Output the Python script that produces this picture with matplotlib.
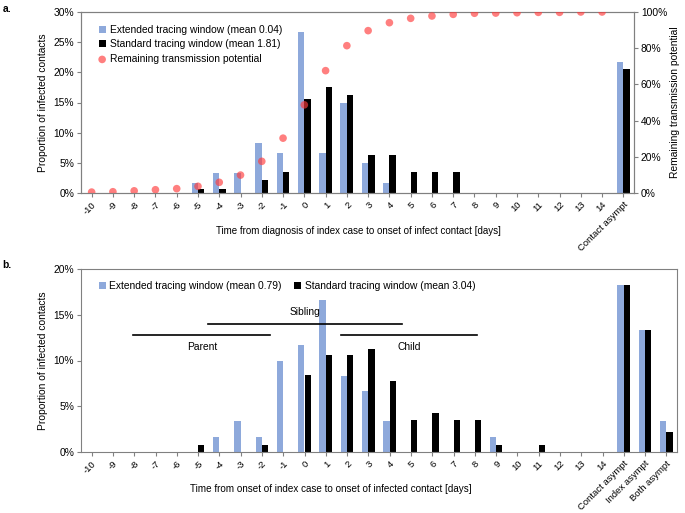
import matplotlib.pyplot as plt
import numpy as np

plt.rcParams['font.family'] = ['Liberation Sans', 'DejaVu Sans']

# panel a data
days_a = [str(d) for d in range(-10, 15)] + ['Contact asympt']
ext_a = [0, 0, 0, 0, 0, 1.65, 3.35, 3.35, 8.35, 6.7, 26.7, 6.7, 15.0, 5.0, 1.7,
         0, 0, 0, 0, 0, 0, 0, 0, 0, 0, 21.7]
std_a = [0, 0, 0, 0, 0, 0.7, 0.7, 0, 2.1, 3.5, 15.5, 17.6, 16.2, 6.3, 6.3,
         3.5, 3.5, 3.5, 0, 0, 0, 0, 0, 0, 0, 20.5]
remaining = [0.5, 0.7, 1.2, 1.8, 2.4, 3.7, 5.9, 9.9, 17.5, 30.3, 48.7, 67.6, 81.4,
             89.7, 94.1, 96.5, 97.8, 98.7, 99.3, 99.4, 99.6, 99.8, 99.8, 100, 100]

# panel b data
days_b = [str(d) for d in range(-10, 15)] + ['Contact asympt', 'Index asympt', 'Both asympt']
ext_b = [0, 0, 0, 0, 0, 0, 1.68, 3.35, 1.68, 10.0, 11.66, 16.65, 8.34, 6.7, 3.35,
         0, 0, 0, 0, 1.68, 0, 0, 0, 0, 0, 18.3, 13.3, 3.35]
std_b = [0, 0, 0, 0, 0, 0.73, 0, 0, 0.73, 0, 8.45, 10.56, 10.56, 11.26, 7.76,
         3.53, 4.23, 3.53, 3.53, 0.73, 0, 0.73, 0, 0, 0, 18.3, 13.3, 2.15]

# relationship spans in panel b (in days)
rel_names = ['Parent', 'Sibling', 'Child']
rel_start = [-8.05, -4.55, 1.7]
rel_end = [-1.6, 4.6, 8.1]
rel_level = [12.8, 14.0, 12.8]

blue = '#8EA9DB'
spine_col = '#808080'
w = 0.3
fs = 7.4


def style_axes(ax):
    for s in ax.spines.values():
        s.set_color(spine_col)
        s.set_linewidth(0.8)
    ax.tick_params(axis='both', length=3, color=spine_col, labelsize=fs, pad=2)


fig = plt.figure(figsize=(6.85, 5.13), dpi=100)

# ---- panel a ----
ax1 = fig.add_axes([81 / 685, 1 - 193 / 513, 553 / 685, 181 / 513])
x = np.arange(len(days_a))
ax1.bar(x - w / 2, ext_a, w, color=blue, label='Extended tracing window (mean 0.04)')
ax1.bar(x + w / 2, std_a, w, color='black', label='Standard tracing window (mean 1.81)')
ax1.set_xlim(-0.5, len(days_a) - 0.5)
ax1.set_ylim(0, 30)
ax1.set_yticks(range(0, 31, 5))
ax1.set_yticklabels([f'{v}%' for v in range(0, 31, 5)])
ax1.set_xticks(x)
style_axes(ax1)
ax1.set_xticklabels(days_a, rotation=45, ha='right', rotation_mode='anchor', fontsize=6.8)
ax1.set_ylabel('Proportion of infected contacts', fontsize=fs)

ax1r = ax1.twinx()
ax1r.scatter(np.arange(len(remaining)), remaining, s=30, color='#FF3B3B', alpha=0.65,
             edgecolors='none', label='Remaining transmission potential', zorder=3)
ax1r.set_ylim(0, 100)
ax1r.set_yticks(range(0, 101, 20))
ax1r.set_yticklabels([f'{v}%' for v in range(0, 101, 20)])
ax1r.set_ylabel('Remaining transmission potential', fontsize=fs, labelpad=2)
style_axes(ax1r)

h1, l1 = ax1.get_legend_handles_labels()
h2, l2 = ax1r.get_legend_handles_labels()
ax1.legend(h1 + h2, l1 + l2, loc='upper left', bbox_to_anchor=(0.015, 0.98), frameon=False,
           fontsize=fs, handlelength=0.7, handleheight=0.7, handletextpad=0.4,
           labelspacing=0.45)
fig.text(358 / 685, 1 - 231 / 513, 'Time from diagnosis of index case to onset of infect contact [days]',
         ha='center', va='center', fontsize=7)
fig.text(0.004, 1 - 9 / 513, 'a.', fontsize=fs, fontweight='bold', va='center')

# ---- panel b ----
ax2 = fig.add_axes([81 / 685, 1 - 452 / 513, 596 / 685, 183 / 513])
x = np.arange(len(days_b))
ax2.bar(x - w / 2, ext_b, w, color=blue, label='Extended tracing window (mean 0.79)')
ax2.bar(x + w / 2, std_b, w, color='black', label='Standard tracing window (mean 3.04)')
ax2.set_xlim(-0.5, len(days_b) - 0.5)
ax2.set_ylim(0, 20)
ax2.set_yticks(range(0, 21, 5))
ax2.set_yticklabels([f'{v}%' for v in range(0, 21, 5)])
ax2.set_xticks(x)
style_axes(ax2)
ax2.set_xticklabels(days_b, rotation=45, ha='right', rotation_mode='anchor', fontsize=6.8)
ax2.set_ylabel('Proportion of infected contacts', fontsize=fs)
ax2.legend(loc='upper left', bbox_to_anchor=(0.015, 0.985), ncol=2, frameon=False,
           fontsize=fs, handlelength=0.7, handleheight=0.7, handletextpad=0.3,
           columnspacing=1.2)

for name, s, e, lv in zip(rel_names, rel_start, rel_end, rel_level):
    ax2.plot([s + 10, e + 10], [lv, lv], color='black', lw=1.2)
    if name == 'Sibling':
        ax2.text((s + e) / 2 + 10, lv + 0.8, name, ha='center', va='bottom', fontsize=fs)
    else:
        ax2.text((s + e) / 2 + 10, lv - 0.8, name, ha='center', va='top', fontsize=fs)

fig.text(331 / 685, 1 - 489 / 513, 'Time from onset of index case to onset of infected contact [days]',
         ha='center', va='center', fontsize=7.1)
fig.text(0.004, 1 - 265 / 513, 'b.', fontsize=fs, fontweight='bold', va='center')

fig.savefig('out.png', dpi=100)
